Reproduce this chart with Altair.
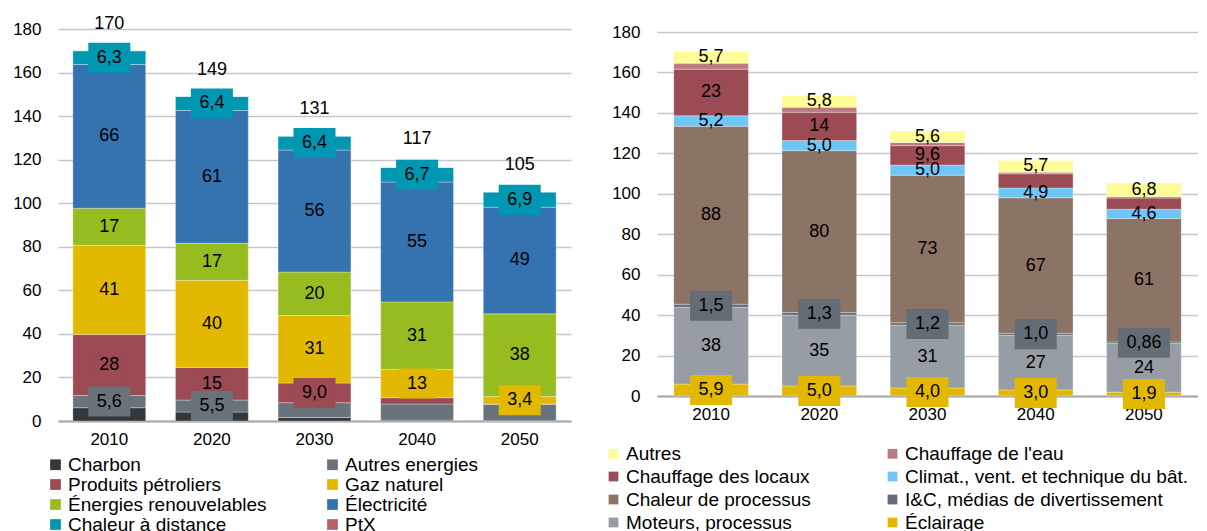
import altair as alt
import pandas as pd

FONT = "Liberation Sans"
years = ["2010", "2020", "2030", "2040", "2050"]

# ---------------- Left chart: by energy carrier ----------------
left_series = ["Charbon", "Autres energies", "Produits pétroliers", "Gaz naturel",
               "Énergies renouvelables", "Électricité", "Chaleur à distance", "PtX"]
left_colors = ["#33383d", "#6a727b", "#9c4a54", "#e2b900",
               "#97bc1f", "#3572b0", "#0097b2", "#b8606a"]
charbon = [6.1, 4.1, 1.6, 0.4, 0.1]
autres_energies = [5.6, 5.5, 6.8, 7.4, 7.5]
produits_petroliers = [28, 15, 9.0, 2.9, 0.2]
gaz_naturel = [41, 40, 31, 13, 3.4]
energies_renouvelables = [17, 17, 20, 31, 38]
electricite = [66, 61, 56, 55, 49]
chaleur_distance = [6.3, 6.4, 6.4, 6.7, 6.9]
ptx = [0, 0, 0, 0, 0]
left_values = [charbon, autres_energies, produits_petroliers, gaz_naturel,
               energies_renouvelables, electricite, chaleur_distance, ptx]
left_show = [[0, 0, 0, 0, 0], [1, 1, 0, 0, 0], [1, 1, 1, 0, 0], [1, 1, 1, 1, 1],
             [1, 1, 1, 1, 1], [1, 1, 1, 1, 1], [1, 1, 1, 1, 1], [0, 0, 0, 0, 0]]
left_box = [1, 1, 1, 1, 1, 1, 1, 1]
left_totals = [170, 149, 131, 117, 105]

# ---------------- Right chart: by application ----------------
right_series = ["Autres", "Chauffage de l'eau", "Chauffage des locaux",
                "Climat., vent. et technique du bât.", "Chaleur de processus",
                "I&C, médias de divertissement", "Moteurs, processus", "Éclairage"]
right_colors = ["#fffc97", "#b97a80", "#9c4a54", "#6ec6f7",
                "#8b7366", "#646c75", "#969da4", "#e2b900"]
autres = [5.7, 5.8, 5.6, 5.7, 6.8]
chauffage_eau = [3.0, 2.5, 1.6, 0.8, 0.7]
chauffage_locaux = [23, 14, 9.6, 7.0, 5.5]
climat = [5.2, 5.0, 5.0, 4.9, 4.6]
chaleur_processus = [88, 80, 73, 67, 61]
ic_medias = [1.5, 1.3, 1.2, 1.0, 0.86]
moteurs = [38, 35, 31, 27, 24]
eclairage = [5.9, 5.0, 4.0, 3.0, 1.9]
right_values = [autres, chauffage_eau, chauffage_locaux, climat,
                chaleur_processus, ic_medias, moteurs, eclairage]
right_show = [[1, 1, 1, 1, 1], [0, 0, 0, 0, 0], [1, 1, 1, 0, 0], [1, 1, 1, 1, 1],
              [1, 1, 1, 1, 1], [1, 1, 1, 1, 1], [1, 1, 1, 1, 1], [1, 1, 1, 1, 1]]
right_box = [0, 0, 0, 0, 0, 1, 0, 1]

ticks = list(range(0, 181, 20))
LABEL_FS = 18


def fmt(v):
    if v >= 10:
        s = f"{v:.0f}"
    elif v >= 1:
        s = f"{v:.1f}"
    else:
        s = f"{v:.2f}"
    return s.replace(".", ",")


def text_w(s):
    return sum(0.278 * LABEL_FS if c == "," else 0.556 * LABEL_FS for c in s)


def build(series, values, stack_order):
    rows = []
    for yi, yr in enumerate(years):
        cum = 0.0
        for si in stack_order:
            v = values[si][yi]
            lab = fmt(v)
            w = text_w(lab) + 17
            hh = 30.0 / w
            rows.append(dict(year=yr, series=series[si], sidx=si, yi=yi, value=v,
                             lo=cum, hi=cum + v, mid=cum + v / 2, label=lab,
                             shape=f"M-1,{-hh:.4f}L1,{-hh:.4f}L1,{hh:.4f}L-1,{hh:.4f}Z",
                             size=w * w))
            cum += v
    return pd.DataFrame(rows)


def make_chart(series, colors, values, show, box, stack_order, width, height,
               ydomain, pad_inner, legend_x, legend_y, col_pad, row_pad, sym_size,
               totals=None):
    df = build(series, values, stack_order)
    xenc = alt.X("year:N", sort=years, title=None,
                 scale=alt.Scale(paddingInner=pad_inner, paddingOuter=pad_inner / 2),
                 axis=alt.Axis(labelFont=FONT, labelFontSize=17, labelColor="black",
                               ticks=False, domainColor="#a6a6a6", domainWidth=2,
                               labelPadding=10, labelAngle=0))
    yscale = alt.Scale(domain=ydomain, nice=False, zero=True)
    bars = alt.Chart(df).mark_bar(stroke="white", strokeWidth=0.6, strokeOpacity=0.5).encode(
        x=xenc,
        y=alt.Y("lo:Q", scale=yscale, title=None,
                axis=alt.Axis(values=ticks, labelFont=FONT, labelFontSize=17,
                              labelColor="black", ticks=False, domain=False,
                              gridColor="#c3c6ca", gridWidth=1.5, labelPadding=17)),
        y2="hi:Q",
        color=alt.Color("series:N", scale=alt.Scale(domain=series, range=colors),
                        legend=alt.Legend(orient="none", legendX=legend_x, legendY=legend_y,
                                          direction="horizontal",
                                          columns=2, title=None, symbolType="square",
                                          symbolSize=sym_size, symbolStrokeWidth=0,
                                          labelFont=FONT, labelFontSize=19,
                                          labelColor="black", labelOffset=3,
                                          columnPadding=col_pad, rowPadding=row_pad,
                                          labelLimit=400)),
    )
    layers = [bars]
    # labels from top series down, so lower boxes overlap upper labels
    for si in reversed(stack_order):
        sub = df[df["sidx"] == si]
        sub = sub[[bool(show[si][yi]) for yi in sub["yi"]]]
        if len(sub) == 0:
            continue
        if box[si]:
            layers.append(alt.Chart(sub).mark_point(filled=True, opacity=1, strokeWidth=0).encode(
                x=alt.X("year:N", sort=years, title=None),
                y=alt.Y("mid:Q", title=None),
                shape=alt.Shape("shape:N", scale=None, legend=None),
                size=alt.Size("size:Q", scale=None, legend=None),
                fill=alt.value(colors[si]),
            ))
        layers.append(alt.Chart(sub).mark_text(font=FONT, fontSize=LABEL_FS, color="black",
                                               baseline="middle").encode(
            x=alt.X("year:N", sort=years, title=None),
            y=alt.Y("mid:Q", title=None),
            text="label:N",
        ))
    if totals is not None:
        tdf = pd.DataFrame({"year": years, "total": totals})
        layers.append(alt.Chart(tdf).mark_text(font=FONT, fontSize=LABEL_FS, color="black",
                                               baseline="alphabetic", dy=-22).encode(
            x=alt.X("year:N", sort=years, title=None),
            y=alt.Y("total:Q", title=None),
            text="total:Q",
        ))
    return alt.layer(*layers).properties(width=width, height=height)


left = make_chart(left_series, left_colors, left_values, left_show, left_box,
                  list(range(8)), 513, 392, [0, 180], 0.29,
                  -12, 426, 56, 0, 115, totals=left_totals)
right = make_chart(right_series, right_colors, right_values, right_show, right_box,
                   list(range(7, -1, -1)), 541, 367, [0, 180 * 367 / 364], 0.31,
                   -53, 415, 72, 3, 95)

chart = alt.hconcat(left, right, spacing=86, bounds="flush").resolve_scale(
    color="independent").configure_view(stroke=None).properties(
    padding={"left": 4, "top": 6, "right": 0, "bottom": 0})

chart.save("out.html", embed_options={"renderer": "svg", "actions": False})
